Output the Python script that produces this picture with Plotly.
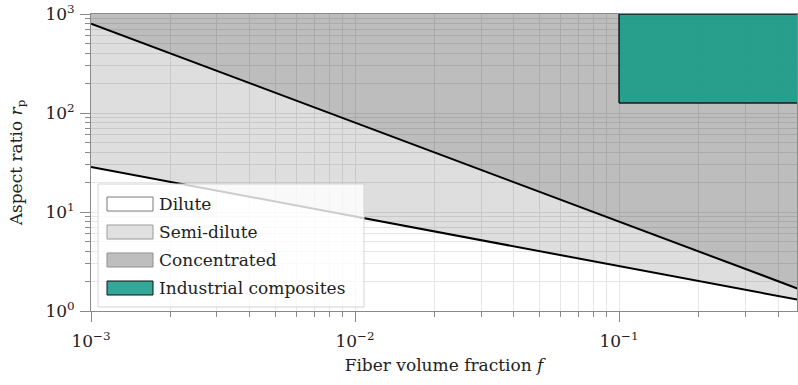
import math
import plotly.graph_objects as go

# ---- data ----
fiber_fraction = [0.001, 0.01, 0.1, 0.5]
upper_boundary = [800, 80, 8, 1.6]        # semi-dilute / concentrated boundary
lower_boundary = [28.5, 9.0, 2.85, 1.27]  # dilute / semi-dilute boundary
composite_f = [0.1, 0.5]
composite_rp = [126, 1000]
x_ticks = [1e-3, 1e-2, 1e-1]
x_ticktext = ["10<sup>−3</sup>", "10<sup>−2</sup>", "10<sup>−1</sup>"]
y_ticks = [1, 10, 100, 1000]
y_ticktext = ["10<sup>0</sup>", "10<sup>1</sup>", "10<sup>2</sup>", "10<sup>3</sup>"]
legend_names = ["Dilute", "Semi-dilute", "Concentrated", "Industrial composites"]

Y_MIN, Y_MAX = 1, 1000
X_MIN, X_MAX = 1e-3, 0.472

FONT = "DejaVu Serif"
W, H = 798, 385
L, R, T, B = 91, 1, 14, 74

fig = go.Figure()

# semi-dilute region
fig.add_trace(go.Scatter(
    x=fiber_fraction + fiber_fraction[::-1],
    y=upper_boundary + lower_boundary[::-1],
    fill="toself", fillcolor="rgba(0,0,0,0.13)", mode="none",
    hoverinfo="skip", showlegend=False))
# concentrated region
fig.add_trace(go.Scatter(
    x=fiber_fraction + fiber_fraction[::-1],
    y=upper_boundary + [Y_MAX] * len(fiber_fraction),
    fill="toself", fillcolor="rgba(0,0,0,0.26)", mode="none",
    hoverinfo="skip", showlegend=False))
# boundary lines
for yy in (upper_boundary, lower_boundary):
    fig.add_trace(go.Scatter(x=fiber_fraction, y=yy, mode="lines",
                             line=dict(color="black", width=2),
                             hoverinfo="skip", showlegend=False))
# industrial composites
cx = [composite_f[0], composite_f[1], composite_f[1], composite_f[0], composite_f[0]]
cy = [composite_rp[0], composite_rp[0], composite_rp[1], composite_rp[1], composite_rp[0]]
fig.add_trace(go.Scatter(x=cx, y=cy, fill="toself",
                         fillcolor="rgba(28,155,137,0.93)", mode="lines",
                         line=dict(color="#1a1a1a", width=1.5),
                         hoverinfo="skip", showlegend=False))

minor_x = [m * 10 ** d for d in (-3, -2, -1) for m in range(2, 10)]
minor_y = [m * 10 ** d for d in (0, 1, 2) for m in range(2, 10)]

axis_common = dict(
    type="log", showline=True, linecolor="#8a8a8a", linewidth=1, mirror=True,
    ticks="outside", ticklen=10, tickcolor="#8a8a8a", tickwidth=1,
    showgrid=True, gridcolor="#e6e6e6", gridwidth=1, zeroline=False,
    tickfont=dict(family=FONT, size=17, color="#222"),
)
fig.update_xaxes(**axis_common, range=[math.log10(X_MIN), math.log10(X_MAX)],
                 tickvals=x_ticks, ticktext=x_ticktext, ticklabelstandoff=5,
                 minor=dict(tickvals=minor_x, ticks="outside", ticklen=5,
                            tickcolor="#8a8a8a", showgrid=True, gridcolor="#e6e6e6"),
                 title=dict(text="Fiber volume fraction <i>f</i>",
                            font=dict(family=FONT, size=17, color="#222"), standoff=8))
fig.update_yaxes(**axis_common, range=[math.log10(Y_MIN), math.log10(Y_MAX)],
                 tickvals=y_ticks, ticktext=y_ticktext, ticklabelstandoff=2,
                 minor=dict(tickvals=minor_y, ticks="outside", ticklen=5,
                            tickcolor="#8a8a8a", showgrid=True, gridcolor="#e6e6e6"),
                 title=dict(text="Aspect ratio <i>r</i><sub>p</sub>",
                            font=dict(family=FONT, size=17, color="#222"), standoff=18))

# ---- manual legend (in paper coords derived from pixel layout) ----
pw, ph = W - L - R, H - T - B
def px(xp):
    return (xp - L) / pw
def py(yp):
    return (H - B - yp) / ph

shapes = [dict(type="rect", xref="paper", yref="paper",
               x0=px(98), x1=px(364), y0=py(307), y1=py(184),
               fillcolor="rgba(255,255,255,0.8)", line=dict(color="#d4d4d4", width=1),
               layer="above")]
swatch = [("white", "#7a7a7a"), ("#e0e0e0", "#9a9a9a"),
          ("#bebebe", "#8f8f8f"), ("#33a898", "#111111")]
annotations = []
for i, (name, (fc, lc)) in enumerate(zip(legend_names, swatch)):
    cyp = 204 + 28 * i
    shapes.append(dict(type="rect", xref="paper", yref="paper",
                       x0=px(107), x1=px(153), y0=py(cyp + 7), y1=py(cyp - 7),
                       fillcolor=fc, line=dict(color=lc, width=1), layer="above"))
    annotations.append(dict(xref="paper", yref="paper", x=px(157), y=py(cyp),
                            xanchor="left", yanchor="middle", showarrow=False,
                            text=name, font=dict(family=FONT, size=17, color="#222")))

fig.update_layout(
    width=W, height=H, margin=dict(l=L, r=R, t=T, b=B),
    paper_bgcolor="white", plot_bgcolor="white",
    shapes=shapes, annotations=annotations, showlegend=False,
)

fig.write_html("out.html")
